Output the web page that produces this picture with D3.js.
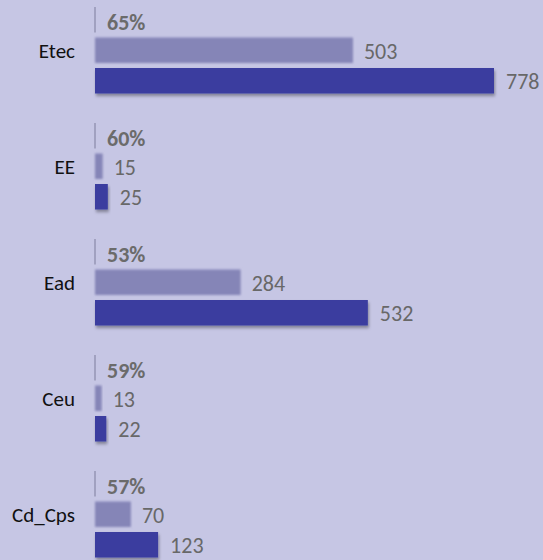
<!DOCTYPE html>
<html>
<head>
<meta charset="utf-8">
<script src="https://cdn.jsdelivr.net/npm/d3@7"></script>
<style>
  html, body { margin: 0; padding: 0; background: #c6c6e4; }
  svg { display: block; }
  text { font-family: Calibri, Carlito, Lato, "Open Sans", sans-serif; }
</style>
</head>
<body>
<div id="chart"></div>
<script>
// Enrolment counts per unit: previous period (light) and current period (dark)
const categories = ["Etec", "EE", "Ead", "Ceu", "Cd_Cps"];
const previousValues = [503, 15, 284, 13, 70];
const currentValues = [778, 25, 532, 22, 123];

const width = 543, height = 560;

const svg = d3.select("#chart").append("svg")
  .attr("width", width)
  .attr("height", height);

svg.append("rect").attr("width", width).attr("height", height).attr("fill", "#c6c6e4");

const defs = svg.append("defs");
const soft = defs.append("filter").attr("id", "soft")
  .attr("x", "-20%").attr("y", "-30%").attr("width", "140%").attr("height", "160%");
soft.append("feGaussianBlur").attr("stdDeviation", 0.9);

const shadow = defs.append("filter").attr("id", "shadow")
  .attr("x", "-10%").attr("y", "-30%").attr("width", "130%").attr("height", "180%");
shadow.append("feDropShadow")
  .attr("dx", 1).attr("dy", 2.5).attr("stdDeviation", 1.6)
  .attr("flood-color", "#000").attr("flood-opacity", 0.35);

const x = d3.scaleLinear().domain([0, 778]).range([95, 494]);

const groupY = d3.scaleBand()
  .domain(categories)
  .range([7, 7 + 116 * categories.length])
  .paddingInner(0).paddingOuter(0);

const rowY = d3.scaleBand()
  .domain(["pct", "prev", "curr"])
  .range([0, 86.5])
  .paddingInner(0.164).paddingOuter(0);

const data = categories.map((c, i) => ({
  name: c,
  prev: previousValues[i],
  curr: currentValues[i],
  ratio: previousValues[i] / currentValues[i]
}));

const g = svg.selectAll("g.group").data(data).join("g")
  .attr("class", "group")
  .attr("transform", d => `translate(0,${groupY(d.name)})`);

// short marker line next to the ratio label
g.append("line")
  .attr("x1", x(0)).attr("x2", x(0))
  .attr("y1", rowY("pct")).attr("y2", rowY("pct") + rowY.bandwidth())
  .attr("stroke", "#7c7c9c").attr("stroke-width", 1);

g.append("text")
  .attr("x", x(0) + 12)
  .attr("y", rowY("pct") + rowY.bandwidth() / 2 + 2.5)
  .attr("dy", "0.35em")
  .attr("font-size", 22)
  .attr("font-weight", "bold")
  .attr("fill", "#6b6b6b")
  .text(d => d3.format(".0%")(d.ratio));

// category label
g.append("text")
  .attr("x", 75)
  .attr("y", rowY("prev") + rowY.bandwidth() / 2)
  .attr("dy", "0.35em")
  .attr("text-anchor", "end")
  .attr("font-size", 21)
  .attr("fill", "#111")
  .text(d => d.name);

// previous-period bar
g.append("rect")
  .attr("x", x(0))
  .attr("y", rowY("prev"))
  .attr("width", d => x(d.prev) - x(0))
  .attr("height", rowY.bandwidth())
  .attr("fill", "#8585b7")
  .attr("filter", "url(#soft)");

g.append("text")
  .attr("x", d => x(d.prev) + 11)
  .attr("y", rowY("prev") + rowY.bandwidth() / 2 + 1)
  .attr("dy", "0.35em")
  .attr("font-size", 22)
  .attr("fill", "#686868")
  .text(d => d.prev);

// current-period bar
g.append("rect")
  .attr("x", x(0))
  .attr("y", rowY("curr"))
  .attr("width", d => x(d.curr) - x(0))
  .attr("height", rowY.bandwidth())
  .attr("fill", "#3a3d9f")
  .attr("filter", "url(#shadow)");

g.append("text")
  .attr("x", d => x(d.curr) + 12)
  .attr("y", rowY("curr") + rowY.bandwidth() / 2 + 1)
  .attr("dy", "0.35em")
  .attr("font-size", 22)
  .attr("fill", "#686868")
  .text(d => d.curr);
</script>
</body>
</html>
